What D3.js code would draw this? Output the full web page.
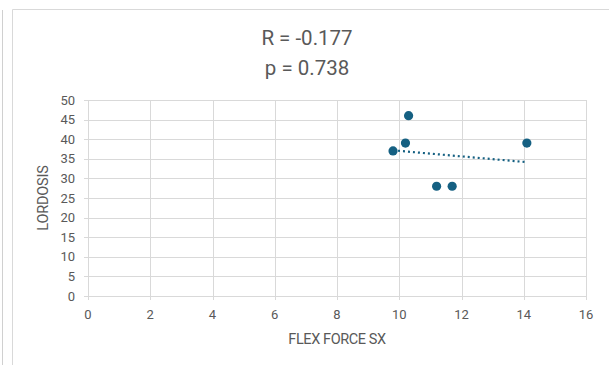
<!DOCTYPE html>
<html>
<head>
<meta charset="utf-8">
<script src="https://cdn.jsdelivr.net/npm/d3@7/dist/d3.min.js"></script>
<style>
  html, body { margin: 0; padding: 0; background: #fff; }
  svg { display: block; font-family: Roboto, "Liberation Sans", sans-serif; }
</style>
</head>
<body>
<svg id="chart" width="610" height="365"></svg>
<script>
// Flexion force (left side) vs lumbar lordosis
const flexForce = [9.8, 10.2, 10.3, 11.2, 11.7, 14.1];
const lordosis  = [37, 39, 46, 28, 28, 39];
const xTicks = [0, 2, 4, 6, 8, 10, 12, 14, 16];
const yTicks = [0, 5, 10, 15, 20, 25, 30, 35, 40, 45, 50];
const titleLines = ["R = -0.177", "p = 0.738"];
const xTitle = "FLEX FORCE SX";
const yTitle = "LORDOSIS";

const svg = d3.select("#chart");
const ink = "#595959", grid = "#d9d9d9", markColor = "#156082";

// outer frame pieces
svg.append("line").attr("x1", 2.5).attr("x2", 2.5).attr("y1", 10).attr("y2", 365)
  .attr("stroke", "#d0d0d0").attr("stroke-width", 1);
svg.append("path").attr("d", "M12.5,365 V9.5 H609")
  .attr("fill", "none").attr("stroke", "#d9d9d9").attr("stroke-width", 1);

const x = d3.scaleLinear().domain([0, 16]).range([88, 586]);
const y = d3.scaleLinear().domain([0, 50]).range([296, 100]);

// gridlines
svg.append("g").selectAll("line").data(yTicks).join("line")
  .attr("x1", x(0) - 4).attr("x2", x(16))
  .attr("y1", d => Math.round(y(d)) + 0.5).attr("y2", d => Math.round(y(d)) + 0.5)
  .attr("stroke", grid).attr("stroke-width", 1);
svg.append("g").selectAll("line").data(xTicks).join("line")
  .attr("x1", d => Math.round(x(d)) + 0.5).attr("x2", d => Math.round(x(d)) + 0.5)
  .attr("y1", y(50)).attr("y2", y(0) + 4)
  .attr("stroke", grid).attr("stroke-width", 1);

// tick labels
svg.append("g").selectAll("text").data(yTicks).join("text")
  .attr("x", x(0) - 13).attr("y", d => y(d)).attr("dy", "0.35em")
  .attr("text-anchor", "end").attr("font-size", 13).attr("fill", ink)
  .text(d => d);
svg.append("g").selectAll("text").data(xTicks).join("text")
  .attr("x", d => x(d)).attr("y", y(0) + 23)
  .attr("text-anchor", "middle").attr("font-size", 13).attr("fill", ink)
  .text(d => d);

// axis titles
svg.append("text").attr("x", (x(0) + x(16)) / 2).attr("y", 344)
  .attr("text-anchor", "middle").attr("font-size", 14.5).attr("fill", ink)
  .attr("letter-spacing", "-0.4").text(xTitle);
svg.append("text").attr("transform", `translate(48,${(y(0) + y(50)) / 2}) rotate(-90)`)
  .attr("text-anchor", "middle").attr("font-size", 14.5).attr("fill", ink)
  .attr("letter-spacing", "-0.2").text(yTitle);

// chart title
svg.append("g").selectAll("text").data(titleLines).join("text")
  .attr("x", 307).attr("y", (d, i) => 45 + i * 30)
  .attr("text-anchor", "middle").attr("font-size", 20.5).attr("fill", ink)
  .text(d => d);

// least-squares trendline over the data range
const mx = d3.mean(flexForce), my = d3.mean(lordosis);
const sxy = d3.sum(flexForce, (v, i) => (v - mx) * (lordosis[i] - my));
const sxx = d3.sum(flexForce, v => (v - mx) * (v - mx));
const slope = sxy / sxx, intercept = my - slope * mx;
const [x0, x1] = d3.extent(flexForce);
svg.append("line")
  .attr("x1", x(x0)).attr("y1", y(intercept + slope * x0))
  .attr("x2", x(x1)).attr("y2", y(intercept + slope * x1))
  .attr("stroke", markColor).attr("stroke-width", 2.2)
  .attr("stroke-dasharray", "2,3");

// points
svg.append("g").selectAll("circle").data(flexForce).join("circle")
  .attr("cx", d => x(d)).attr("cy", (d, i) => y(lordosis[i]))
  .attr("r", 4.6).attr("fill", markColor);
</script>
</body>
</html>
